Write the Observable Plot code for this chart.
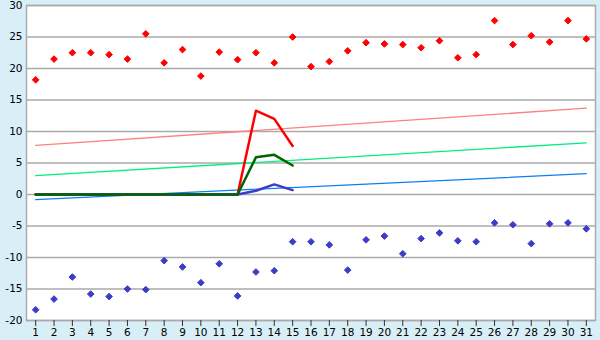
<!DOCTYPE html>
<html>
<head>
<meta charset="utf-8">
<script src="https://cdn.jsdelivr.net/npm/d3@7"></script>
<script src="https://cdn.jsdelivr.net/npm/@observablehq/plot@0.6"></script>
<style>
  html, body { margin: 0; padding: 0; background: #d9eff7; }
  svg { display: block; }
</style>
</head>
<body>
<div id="chart"></div>
<script>
const days = [1,2,3,4,5,6,7,8,9,10,11,12,13,14,15,16,17,18,19,20,21,22,23,24,25,26,27,28,29,30,31];
const maxTemp = [18.2,21.5,22.5,22.5,22.2,21.5,25.5,20.9,23.0,18.8,22.6,21.4,22.5,20.9,25.0,
                 20.3,21.1,22.8,24.1,23.9,23.8,23.3,24.4,21.7,22.2,27.6,23.8,25.2,24.2,27.6,24.7];
const minTemp = [-18.3,-16.6,-13.1,-15.8,-16.2,-15.0,-15.1,-10.5,-11.5,-14.0,-11.0,-16.1,-12.3,-12.1,-7.5,
                 -7.5,-8.0,-12.0,-7.2,-6.6,-9.4,-7.0,-6.1,-7.35,-7.5,-4.5,-4.8,-7.8,-4.65,-4.5,-5.45];
const trendDays = [1, 31];
const trendMax = [7.8, 13.7];
const trendMean = [3.0, 8.2];
const trendMin = [-0.8, 3.3];
const lineDays = [1,2,3,4,5,6,7,8,9,10,11,12,13,14,15];
const lineRed = [0,0,0,0,0,0,0,0,0,0,0,0,13.3,12.0,7.7];
const lineGreen = [0,0,0,0,0,0,0,0,0,0,0,0,5.9,6.3,4.6];
const lineBlue = [0,0,0,0,0,0,0,0,0,0,0,0,0.6,1.6,0.7];
const yTicks = [-20,-15,-10,-5,0,5,10,15,20,25,30];

const pts = (xs, ys) => xs.map((x, i) => ({x, y: ys[i]}));

const chart = Plot.plot({
  width: 600,
  height: 340,
  marginLeft: 26,
  marginRight: 5,
  marginTop: 5,
  marginBottom: 20,
  style: {background: "#d9eff7", fontFamily: "DejaVu Sans", fontSize: "10px", color: "#000"},
  x: {domain: [0.5, 31.5], ticks: days, tickFormat: d => String(d), label: null},
  y: {domain: [-20, 30], ticks: yTicks, tickFormat: d => String(d), label: null},
  marks: [
    Plot.frame({fill: "white", stroke: "none"}),
    Plot.gridY(yTicks, {stroke: "#aaaaaa", strokeOpacity: 1, strokeWidth: 1.5}),
    Plot.frame({stroke: "#aaaaaa", strokeWidth: 1.5}),
    Plot.axisX({ticks: days, tickSize: 6, tickPadding: 2, stroke: "#333", tickFormat: d => String(d), fontSize: 10.5, label: null}),
    Plot.axisY({ticks: yTicks, tickSize: 0, tickPadding: 4, tickFormat: d => String(d), fontSize: 10.5, label: null}),
    Plot.line(pts(trendDays, trendMax), {x: "x", y: "y", stroke: "#ff8080", strokeWidth: 1.3}),
    Plot.line(pts(trendDays, trendMean), {x: "x", y: "y", stroke: "#00f080", strokeWidth: 1.3}),
    Plot.line(pts(trendDays, trendMin), {x: "x", y: "y", stroke: "#0a80f0", strokeWidth: 1.3}),
    Plot.line(pts(lineDays, lineRed), {x: "x", y: "y", stroke: "#ff0000", strokeWidth: 2.5}),
    Plot.line(pts(lineDays, lineBlue), {x: "x", y: "y", stroke: "#3c3cc8", strokeWidth: 2.5}),
    Plot.line(pts(lineDays, lineGreen), {x: "x", y: "y", stroke: "#006400", strokeWidth: 2.5}),
    Plot.dot(pts(days, maxTemp), {x: "x", y: "y", symbol: "diamond2", r: 3, fill: "#ff0000", stroke: "#ff0000", strokeWidth: 1}),
    Plot.dot(pts(days, minTemp), {x: "x", y: "y", symbol: "diamond2", r: 3, fill: "#3c3cc8", stroke: "#3c3cc8", strokeWidth: 1})
  ]
});
document.getElementById("chart").appendChild(chart);
</script>
</body>
</html>
